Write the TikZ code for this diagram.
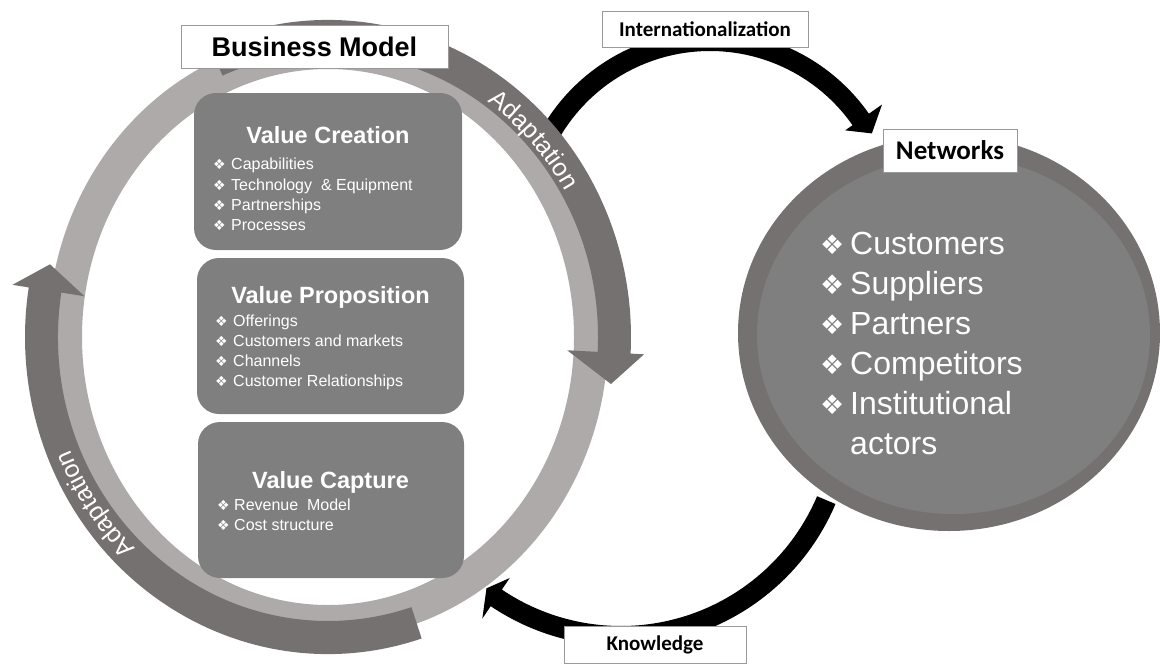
\documentclass[tikz,border=0pt]{standalone}
\usepackage{fontspec}
\setmainfont{Liberation Sans}
\newfontfamily\calfont{Carlito}
\newfontfamily\symfont{DejaVu Sans}
\usetikzlibrary{decorations.text}
\definecolor{darkg}{HTML}{767171}
\definecolor{lightg}{HTML}{AEAAAA}
\definecolor{midg}{HTML}{7F7F7F}
\newcommand{\vb}{{\symfont\fontsize{14}{14}\selectfont ❖}}
\newcommand{\nb}{{\symfont\fontsize{27}{27}\selectfont ❖}}
\newcommand{\adaptfont}{\color{white}\fontsize{25}{25}\selectfont}
\begin{document}
\begin{tikzpicture}[x=1pt,y=1pt,
  vbox/.style={fill=midg, rounded corners=22pt, inner sep=0pt},
  lbl/.style={draw=black!40, fill=white, line width=1pt, inner sep=0pt},
  vtitle/.style={text=white, font=\bfseries\fontsize{23.5}{26}\selectfont, anchor=base, inner sep=0pt},
  vitem/.style={text=white, font=\fontsize{16}{19}\selectfont, anchor=base west, inner sep=0pt},
  nitem/.style={text=white, font=\fontsize{32}{38}\selectfont, anchor=base west, inner sep=0pt},
  blackarrow/.style={fill=black},
  ringarrow/.style={fill=darkg}]
\useasboundingbox (0,0) rectangle (1160,-664);

% ---- black connector arrows (drawn first, the ring and circle overlap their ends)
\begin{scope}[shift={(710,-225)}]
  \coordinate (intTail) at ({184*cos(149)},{184*sin(149)});
  \coordinate (intTip) at ({186*cos(29.5)},{186*sin(29.5)});
  \fill[blackarrow] ({194*cos(149)},{194*sin(149)}) arc[start angle=149, end angle=35, radius=194]
    -- ({210*cos(35)},{210*sin(35)}) -- (intTip) -- ({165*cos(35)},{165*sin(35)})
    -- ({174*cos(35)},{174*sin(35)}) arc[start angle=35, end angle=149, radius=174] -- cycle;
\end{scope}
\begin{scope}[shift={(621,-413)}]
  \coordinate (knTail) at ({223*cos(-23)},{223*sin(-23)});
  \coordinate (knTip) at ({221*cos(-127.5)},{221*sin(-127.5)});
  \fill[blackarrow] ({233*cos(-23)},{233*sin(-23)}) arc[start angle=-23, end angle=-124, radius=233]
    -- ({248*cos(-124)},{248*sin(-124)}) -- (knTip) -- ({199*cos(-124)},{199*sin(-124)})
    -- ({213*cos(-124)},{213*sin(-124)}) arc[start angle=-124, end angle=-23, radius=213] -- cycle;
\end{scope}

% ---- business model ring
\begin{scope}[shift={(328,-337)}]
  \draw[lightg, line width=34pt] (0,0) ellipse[x radius=263, y radius=285];
  % right adaptation arrow
  \fill[ringarrow] ({303*cos(113)},{317*sin(113)}) arc[start angle=113, end angle=-3, x radius=303, y radius=317]
    -- ({316.5*cos(-3)},{330.5*sin(-3)}) -- ({286.5*cos(-9)},{300.5*sin(-9)})
    -- ({239.5*cos(-3)},{253.5*sin(-3)}) -- ({270*cos(-3)},{284*sin(-3)})
    arc[start angle=-3, end angle=113, x radius=270, y radius=284] -- cycle;
  % left adaptation arrow
  \fill[ringarrow] ({303*cos(-72)},{317*sin(-72)}) arc[start angle=-72, end angle=-189, x radius=303, y radius=317]
    -- ({319.5*cos(-189)},{333.5*sin(-189)}) -- ({286.5*cos(-194)},{300.5*sin(-194)})
    -- ({246.5*cos(-189)},{260.5*sin(-189)}) -- ({270*cos(-189)},{284*sin(-189)})
    arc[start angle=-189, end angle=-72, x radius=270, y radius=284] -- cycle;
  \path[decorate, decoration={text along path, text align=center, text={|\adaptfont|Adaptation}}]
    ({275*cos(59)},{289*sin(59)}) arc[start angle=59, end angle=26, x radius=275, y radius=289];
  \path[decorate, decoration={text along path, text align=center, text={|\adaptfont|Adaptation}}]
    ({279*cos(-128)},{293*sin(-128)}) arc[start angle=-128, end angle=-163, x radius=279, y radius=293];
\end{scope}

% ---- value boxes
\node[vbox, minimum width=268pt, minimum height=157pt] (vcr) at (328,-171.5) {};
\node[vbox, minimum width=267pt, minimum height=156pt] (vpr) at (330.5,-336) {};
\node[vbox, minimum width=266pt, minimum height=156pt] (vca) at (331,-500) {};

\node[vtitle] (vcrt) at (328,-143) {Value Creation};
\node[vitem] (vc1) at (213,-169) {\makebox[18pt][l]{\vb}Capabilities};
\node[vitem] (vc2) at (213,-190) {\makebox[18pt][l]{\vb}Technology\ \ \& Equipment};
\node[vitem] (vc3) at (213,-210) {\makebox[18pt][l]{\vb}Partnerships};
\node[vitem] (vc4) at (213,-230) {\makebox[18pt][l]{\vb}Processes};

\node[vtitle] (vprt) at (330.5,-303) {Value Proposition};
\node[vitem] (vp1) at (215,-326) {\makebox[18pt][l]{\vb}Offerings};
\node[vitem] (vp2) at (215,-346) {\makebox[18pt][l]{\vb}Customers and markets};
\node[vitem] (vp3) at (215,-366) {\makebox[18pt][l]{\vb}Channels};
\node[vitem] (vp4) at (215,-386) {\makebox[18pt][l]{\vb}Customer Relationships};

\node[vtitle] (vcat) at (330.5,-488) {Value Capture};
\node[vitem] (va1) at (217,-510) {\makebox[17pt][l]{\vb}Revenue\ \ Model};
\node[vitem] (va2) at (217,-530) {\makebox[17pt][l]{\vb}Cost structure};

% ---- networks circle
\fill[darkg] (949,-333) ellipse[x radius=211, y radius=198];
\fill[midg] (953.5,-335) ellipse[x radius=196.5, y radius=179];
\node[nitem] (n1) at (820,-254) {\makebox[30pt][l]{\nb}Customers};
\node[nitem] (n2) at (820,-294) {\makebox[30pt][l]{\nb}Suppliers};
\node[nitem] (n3) at (820,-334) {\makebox[30pt][l]{\nb}Partners};
\node[nitem] (n4) at (820,-374) {\makebox[30pt][l]{\nb}Competitors};
\node[nitem] (n5) at (820,-414) {\makebox[30pt][l]{\nb}Institutional};
\node[nitem] (n6) at (850,-454) {actors};

% ---- label boxes
\node[lbl, minimum width=267pt, minimum height=43pt, font=\bfseries\fontsize{27}{30}\selectfont] (bm) at (314.5,-46.5) {Business Model};
\node[lbl, minimum width=206pt, minimum height=36pt, font=\calfont\bfseries\fontsize{21}{24}\selectfont] (intl) at (705,-29) {Internationalization};
\node[lbl, minimum width=134pt, minimum height=43pt, font=\calfont\bfseries\fontsize{27}{30}\selectfont] (net) at (950,-150.5) {Networks};
\node[lbl, minimum width=182pt, minimum height=37pt, font=\calfont\bfseries\fontsize{21}{24}\selectfont] (know) at (655,-644.5) {Knowledge};
\end{tikzpicture}
\end{document}
